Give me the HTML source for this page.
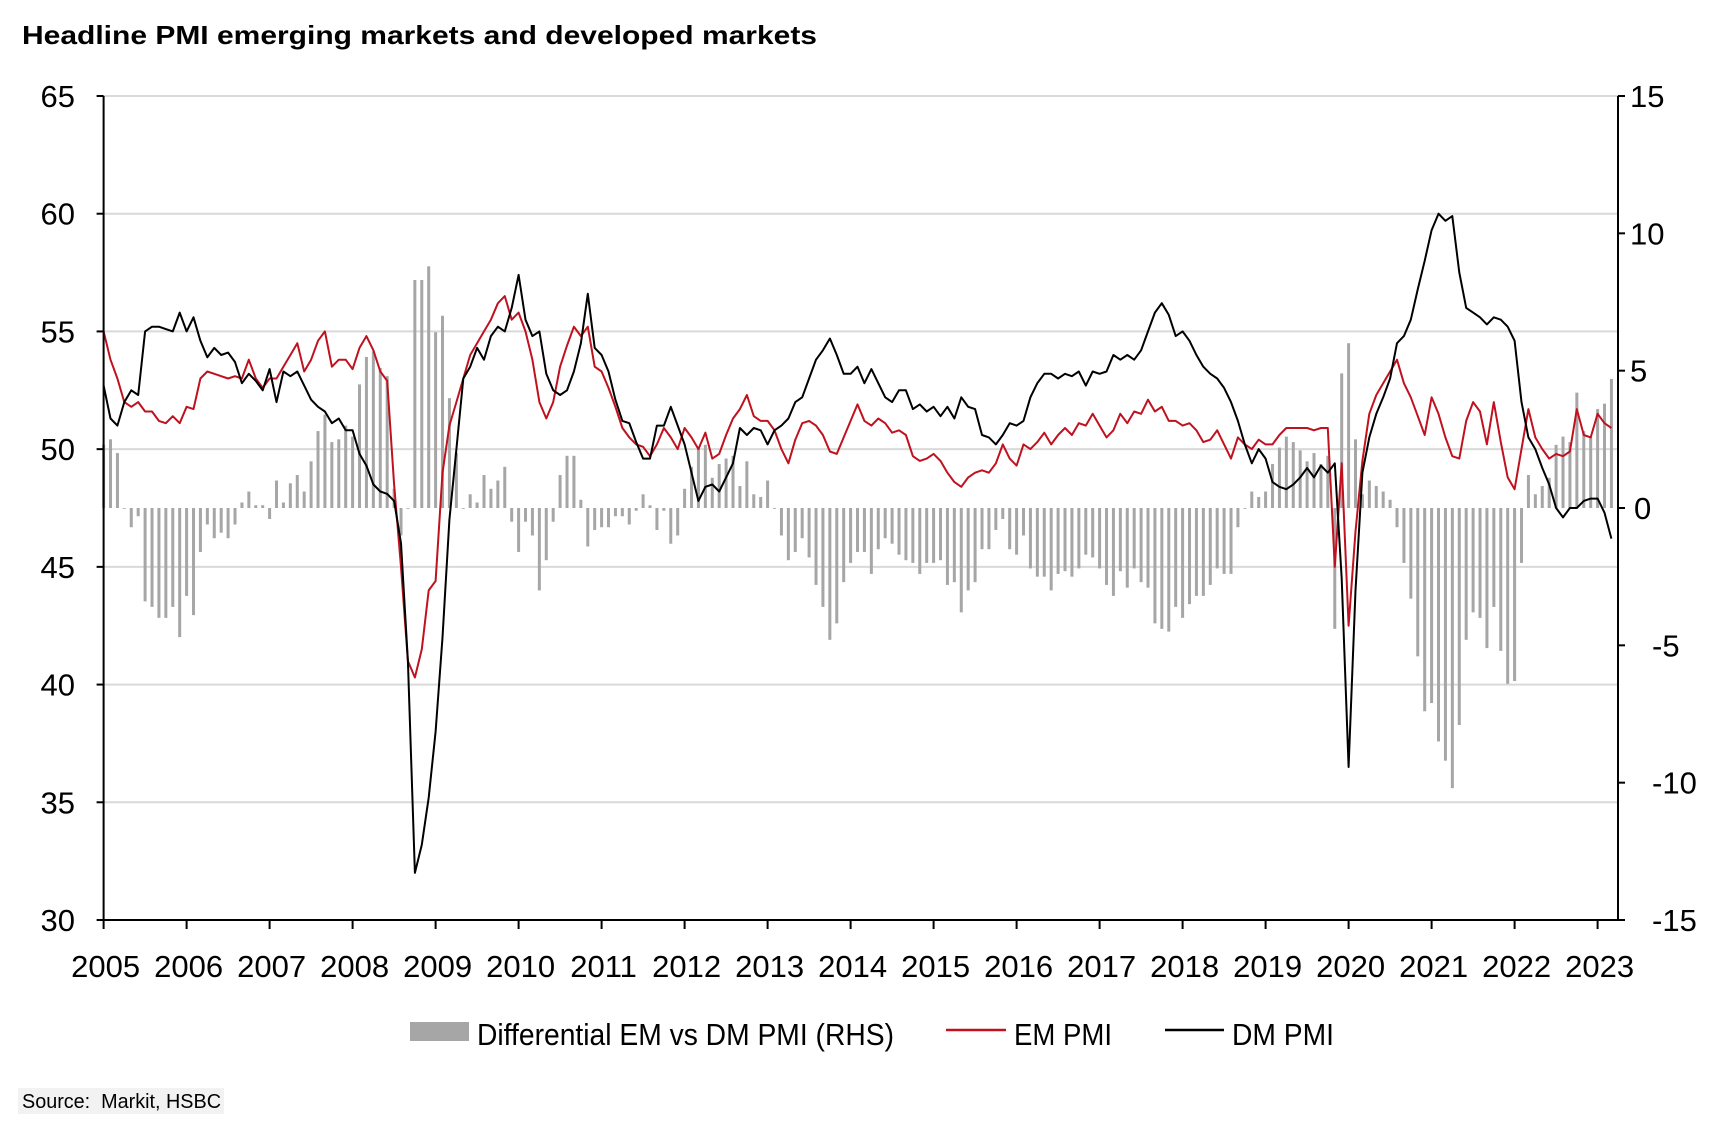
<!DOCTYPE html>
<html><head><meta charset="utf-8">
<style>
html,body{margin:0;padding:0;background:#fff;}
svg{display:block;}
text{font-family:"Liberation Sans Narrow","Liberation Sans",sans-serif;fill:#000;}
</style></head>
<body>
<svg id="chart" width="1710" height="1126" viewBox="0 0 1710 1126" xmlns="http://www.w3.org/2000/svg">
<text x="22" y="44" font-size="26" font-weight="bold" style="font-family:'Liberation Sans',sans-serif" textLength="795" lengthAdjust="spacingAndGlyphs">Headline PMI emerging markets and developed markets</text>
<g id="grid"></g>
<g id="bars"></g>
<g id="lines"></g>
<g id="axes"></g>
<g>
 <rect x="410" y="1022" width="59" height="19" fill="#a6a6a6"/>
 <text x="477" y="1045" font-size="31" textLength="417" lengthAdjust="spacingAndGlyphs">Differential EM vs DM PMI (RHS)</text>
 <line x1="946" y1="1030" x2="1006" y2="1030" stroke="#c0111f" stroke-width="2.5"/>
 <text x="1014" y="1045" font-size="31" textLength="98" lengthAdjust="spacingAndGlyphs">EM PMI</text>
 <line x1="1165" y1="1030" x2="1224" y2="1030" stroke="#000" stroke-width="2.5"/>
 <text x="1232" y="1045" font-size="31" textLength="102" lengthAdjust="spacingAndGlyphs">DM PMI</text>
</g>
<rect x="18" y="1088" width="206" height="26" fill="#f2f2f2"/>
<text x="22" y="1108" font-size="20" style="font-family:'Liberation Sans',sans-serif" textLength="199" lengthAdjust="spacingAndGlyphs">Source:&#160; Markit, HSBC</text>
</svg>
<script>
const years = ["2005","2006","2007","2008","2009","2010","2011","2012","2013","2014","2015","2016","2017","2018","2019","2020","2021","2022","2023"];
const leftTicks = [30,35,40,45,50,55,60,65];
const rightTicks = [-15,-10,-5,0,5,10,15];
const emPMI = [
55,53.8,53,52,51.8,52,51.6,51.6,51.2,51.1,51.4,51.1,
51.8,51.7,53,53.3,53.2,53.1,53,53.1,53,53.8,53,52.6,
53,53,53.5,54,54.5,53.3,53.8,54.6,55,53.5,53.8,53.8,
53.4,54.3,54.8,54.2,53.3,52.9,48.5,45,41,40.3,41.5,44,
44.4,49,51,52,53,54,54.5,55,55.5,56.2,56.5,55.5,
55.8,55,53.8,52,51.3,52,53.5,54.4,55.2,54.8,55.2,53.5,
53.3,52.6,51.8,50.9,50.5,50.2,50.1,49.7,50.2,50.9,50.5,50,
50.9,50.5,50,50.7,49.6,49.8,50.6,51.3,51.7,52.3,51.4,51.2,
51.2,50.8,50.0,49.4,50.4,51.1,51.2,51.0,50.6,49.9,49.8,50.5,
51.2,51.9,51.2,51.0,51.3,51.1,50.7,50.8,50.6,49.7,49.5,49.6,
49.8,49.5,49,48.6,48.4,48.8,49.0,49.1,49.0,49.4,50.2,49.6,
49.3,50.2,50.0,50.3,50.7,50.2,50.6,50.9,50.6,51.1,51.0,51.5,
51,50.5,50.8,51.5,51.1,51.6,51.5,52.1,51.6,51.8,51.2,51.2,
51.0,51.1,50.8,50.3,50.4,50.8,50.2,49.6,50.5,50.2,50.0,50.4,
50.2,50.2,50.6,50.9,50.9,50.9,50.9,50.8,50.9,50.9,45.0,49.4,
42.5,46.5,49.5,51.5,52.3,52.8,53.3,53.8,52.8,52.2,51.4,50.6,
52.2,51.5,50.5,49.7,49.6,51.2,52,51.6,50.2,52,50.3,48.8,
48.3,50,51.7,50.5,50,49.6,49.8,49.7,49.9,51.7,50.6,50.5,
51.5,51.1,50.9];
const dmPMI = [
52.7,51.3,51,52,52.5,52.3,55,55.2,55.2,55.1,55,55.8,
55,55.6,54.6,53.9,54.3,54,54.1,53.7,52.8,53.2,52.9,52.5,
53.4,52,53.3,53.1,53.3,52.7,52.1,51.8,51.6,51.1,51.3,50.8,
50.8,49.8,49.3,48.5,48.2,48.1,47.8,46,41,32,33.2,35.2,
38,42,47,50,53,53.5,54.3,53.8,54.8,55.2,55,56,
57.4,55.5,54.8,55.0,53.2,52.5,52.3,52.5,53.3,54.5,56.6,54.3,
54,53.3,52.1,51.2,51.1,50.3,49.6,49.6,51,51,51.8,51,
50.2,49,47.8,48.4,48.5,48.2,48.8,49.4,50.9,50.6,50.9,50.8,
50.2,50.8,51,51.3,52,52.2,53,53.8,54.2,54.7,54,53.2,
53.2,53.5,52.8,53.4,52.8,52.2,52,52.5,52.5,51.7,51.9,51.6,
51.8,51.4,51.8,51.3,52.2,51.8,51.7,50.6,50.5,50.2,50.6,51.1,
51,51.2,52.2,52.8,53.2,53.2,53,53.2,53.1,53.3,52.7,53.3,
53.2,53.3,54,53.8,54,53.8,54.2,55,55.8,56.2,55.7,54.8,
55,54.6,54,53.5,53.2,53,52.6,52,51.2,50.2,49.4,50,
49.6,48.6,48.4,48.3,48.5,48.8,49.2,48.8,49.3,49.0,49.4,44.5,
36.5,44,49,50.5,51.5,52.2,53,54.5,54.8,55.5,56.8,58,
59.3,60,59.7,59.9,57.5,56,55.8,55.6,55.3,55.6,55.5,55.2,
54.6,52,50.5,50,49.2,48.5,47.5,47.1,47.5,47.5,47.8,47.9,
47.9,47.3,46.2];

const NS="http://www.w3.org/2000/svg";
const X0=103.6, YEARW=83, LTOP=96, LBOT=920, RIGHTX=1618;
function xScale(i){return X0 + i*YEARW/12;}
function yLeft(v){return LBOT - (v-30)/35*(LBOT-LTOP);}
function yRight(v){return LBOT - (v+15)/30*(LBOT-LTOP);}
function mk(tag,parent){const e=document.createElementNS(NS,tag);parent.appendChild(e);return e;}

const grid=document.getElementById('grid');
leftTicks.forEach(t=>{ if(t===30) return;
  const l=mk('line',grid);
  
  
  l.setAttribute('x1',X0);l.setAttribute('x2',RIGHTX);
  l.setAttribute('y1',yLeft(t));l.setAttribute('y2',yLeft(t));
  l.setAttribute('stroke','#d9d9d9');l.setAttribute('stroke-width','2');
});

const bars=document.getElementById('bars');
emPMI.forEach((e,i)=>{
  const d=e-dmPMI[i];
  const y0=yRight(0), y1=yRight(d);
  const r=mk('rect',bars);
  
  
  r.setAttribute('x',xScale(i)-1.5);r.setAttribute('width',3);
  r.setAttribute('y',Math.min(y0,y1));r.setAttribute('height',Math.max(0.8,Math.abs(y1-y0)));
  r.setAttribute('fill','#a6a6a6');
});

const lines=document.getElementById('lines');
function line(arr,color,name){
  const p=mk('polyline',lines);
  
  
  p.setAttribute('points',arr.map((v,i)=>xScale(i).toFixed(1)+','+yLeft(v).toFixed(1)).join(' '));
  p.setAttribute('fill','none');p.setAttribute('stroke',color);p.setAttribute('stroke-width','2');
  p.setAttribute('stroke-linejoin','round');
}
line(emPMI,'#c0111f','em-pmi-line');
line(dmPMI,'#000','dm-pmi-line');

const axes=document.getElementById('axes');
function ln(x1,y1,x2,y2,name){const l=mk('line',axes);
  
  
  l.setAttribute('x1',x1);l.setAttribute('y1',y1);l.setAttribute('x2',x2);l.setAttribute('y2',y2);
  l.setAttribute('stroke','#000');l.setAttribute('stroke-width','2');}
ln(X0,LTOP,X0,LBOT+1,'left-axis-line');
ln(X0,LBOT,RIGHTX,LBOT,'x-axis-line');
ln(RIGHTX,LTOP,RIGHTX,LBOT,'right-axis-line');
leftTicks.forEach(t=>{
  ln(X0-7,yLeft(t),X0,yLeft(t),'left-tick');
  const tx=mk('text',axes);
  
  
  tx.setAttribute('x',75);tx.setAttribute('y',yLeft(t)+11);
  tx.setAttribute('text-anchor','end');tx.setAttribute('font-size','31');
  tx.textContent=t;
});
rightTicks.forEach(t=>{
  ln(RIGHTX,yRight(t),RIGHTX+7,yRight(t),'right-tick');
  const tx=mk('text',axes);
  
  
  tx.setAttribute('x',t<0?1652:(t===0?1634:1630));tx.setAttribute('y',yRight(t)+11);
  tx.setAttribute('font-size','31');
  tx.textContent=t;
});
years.forEach((y,k)=>{
  const x=xScale(k*12);
  ln(x,LBOT,x,LBOT+9,'x-tick');
  const tx=mk('text',axes);
  
  
  tx.setAttribute('x',x+2);tx.setAttribute('y',977);
  tx.setAttribute('text-anchor','middle');tx.setAttribute('font-size','31');
  tx.textContent=y;
});
</script>
</body></html>
